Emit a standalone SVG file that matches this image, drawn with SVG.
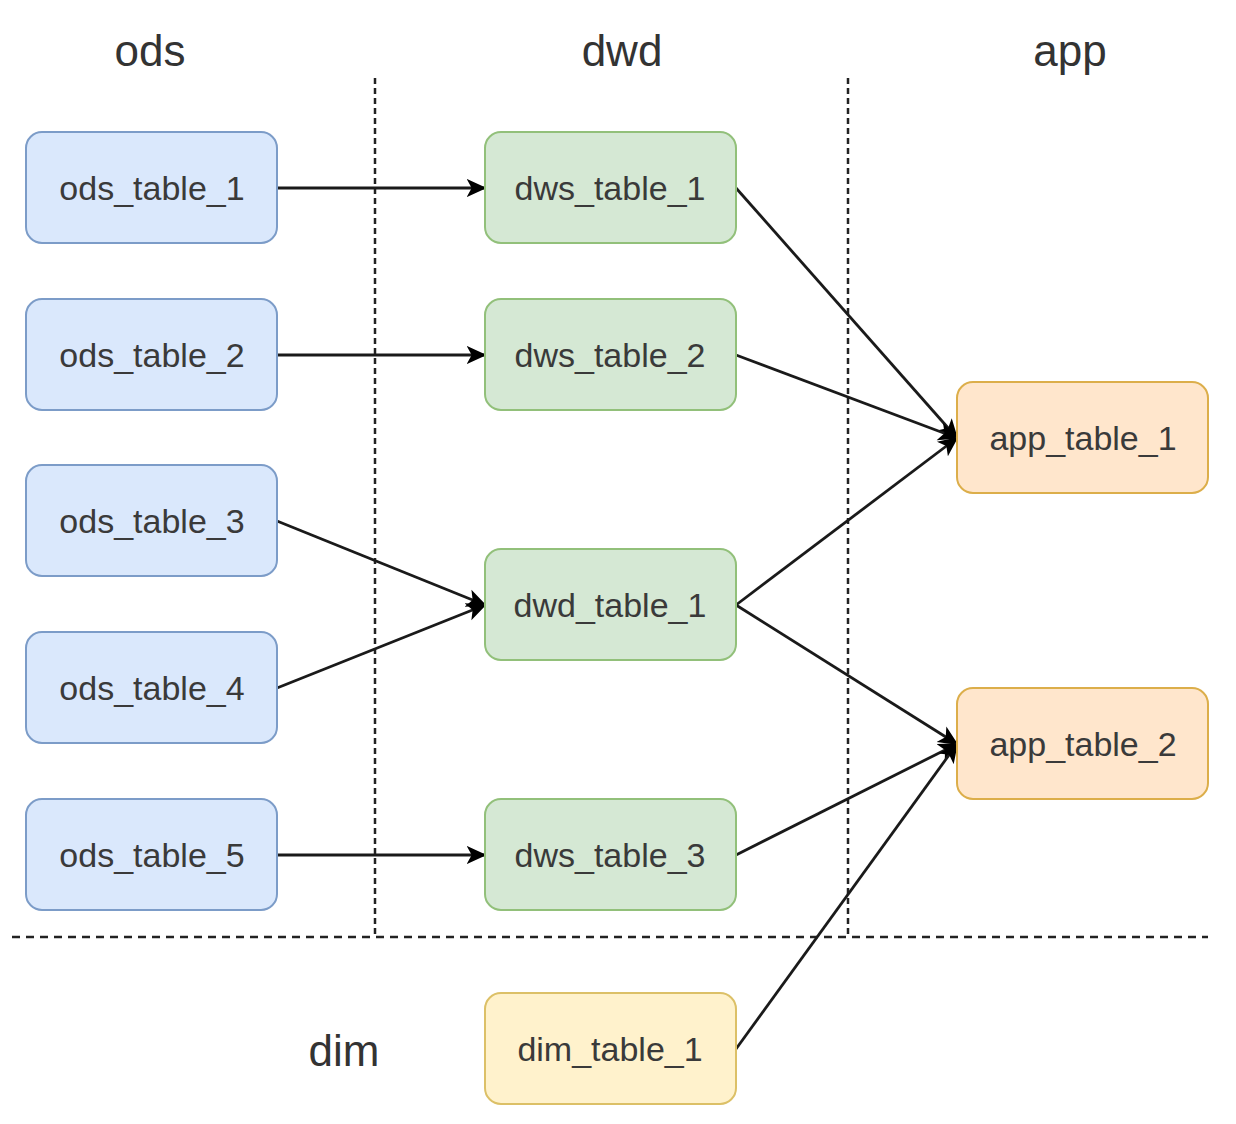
<svg xmlns="http://www.w3.org/2000/svg" width="1236" height="1124" viewBox="0 0 1236 1124">
<style>
.box{stroke-width:2}
.ods{fill:#dae8fc;stroke:#7c9cc8}
.dw{fill:#d5e8d4;stroke:#92c07a}
.app{fill:#ffe6cc;stroke:#dcae4a}
.dim{fill:#fff2cc;stroke:#dcc067}
.lbl{font-family:"Liberation Sans",Arial,sans-serif;font-size:34px;fill:#3a3a3a;text-anchor:middle}
.hdr{font-family:"Liberation Sans",Arial,sans-serif;font-size:44px;fill:#333;text-anchor:middle}
.div{stroke:#222;stroke-width:2.5;fill:none;stroke-dasharray:6 4}
.edge{stroke:#1a1a1a;stroke-width:2.8;fill:none;marker-end:url(#arr)}
</style>
<defs>
<marker id="arr" viewBox="0 0 12 12" refX="11" refY="6" markerWidth="20" markerHeight="20" markerUnits="userSpaceOnUse" orient="auto">
<path d="M0,0.5 L12,6 L0,11.5 L3,6 Z" fill="#000"/>
</marker>
</defs>
<rect width="1236" height="1124" fill="#fff"/>
<g id="dividers">
<line class="div" x1="375" y1="78" x2="375" y2="937"/>
<line class="div" x1="848" y1="78" x2="848" y2="937"/>
<line class="div" x1="12" y1="937" x2="1208" y2="937" style="stroke-dasharray:8 6"/>
</g>
<g id="headers">
<text class="hdr" x="150" y="66">ods</text>
<text class="hdr" x="622" y="66">dwd</text>
<text class="hdr" x="1070" y="66">app</text>
<text class="hdr" x="344" y="1066">dim</text>
</g>
<g id="connectors">
<line class="edge" x1="277" y1="188" x2="485" y2="188"/>
<line class="edge" x1="277" y1="355" x2="485" y2="355"/>
<line class="edge" x1="277" y1="521" x2="485" y2="605"/>
<line class="edge" x1="277" y1="688" x2="485" y2="605"/>
<line class="edge" x1="277" y1="855" x2="485" y2="855"/>
<line class="edge" x1="736" y1="188" x2="957" y2="438"/>
<line class="edge" x1="736" y1="355" x2="957" y2="438"/>
<line class="edge" x1="736" y1="605" x2="957" y2="438"/>
<line class="edge" x1="736" y1="605" x2="957" y2="744"/>
<line class="edge" x1="736" y1="855" x2="957" y2="744"/>
<line class="edge" x1="736" y1="1049" x2="957" y2="744"/>
</g>
<g id="ods_table_1"><rect class="box ods" x="26" y="132" width="251" height="111" rx="16"/><text class="lbl" x="152" y="200">ods_table_1</text></g>
<g id="ods_table_2"><rect class="box ods" x="26" y="299" width="251" height="111" rx="16"/><text class="lbl" x="152" y="367">ods_table_2</text></g>
<g id="ods_table_3"><rect class="box ods" x="26" y="465" width="251" height="111" rx="16"/><text class="lbl" x="152" y="533">ods_table_3</text></g>
<g id="ods_table_4"><rect class="box ods" x="26" y="632" width="251" height="111" rx="16"/><text class="lbl" x="152" y="700">ods_table_4</text></g>
<g id="ods_table_5"><rect class="box ods" x="26" y="799" width="251" height="111" rx="16"/><text class="lbl" x="152" y="867">ods_table_5</text></g>
<g id="dws_table_1"><rect class="box dw" x="485" y="132" width="251" height="111" rx="16"/><text class="lbl" x="610" y="200">dws_table_1</text></g>
<g id="dws_table_2"><rect class="box dw" x="485" y="299" width="251" height="111" rx="16"/><text class="lbl" x="610" y="367">dws_table_2</text></g>
<g id="dwd_table_1"><rect class="box dw" x="485" y="549" width="251" height="111" rx="16"/><text class="lbl" x="610" y="617">dwd_table_1</text></g>
<g id="dws_table_3"><rect class="box dw" x="485" y="799" width="251" height="111" rx="16"/><text class="lbl" x="610" y="867">dws_table_3</text></g>
<g id="dim_table_1"><rect class="box dim" x="485" y="993" width="251" height="111" rx="16"/><text class="lbl" x="610" y="1061">dim_table_1</text></g>
<g id="app_table_1"><rect class="box app" x="957" y="382" width="251" height="111" rx="16"/><text class="lbl" x="1083" y="450">app_table_1</text></g>
<g id="app_table_2"><rect class="box app" x="957" y="688" width="251" height="111" rx="16"/><text class="lbl" x="1083" y="756">app_table_2</text></g>
</svg>
